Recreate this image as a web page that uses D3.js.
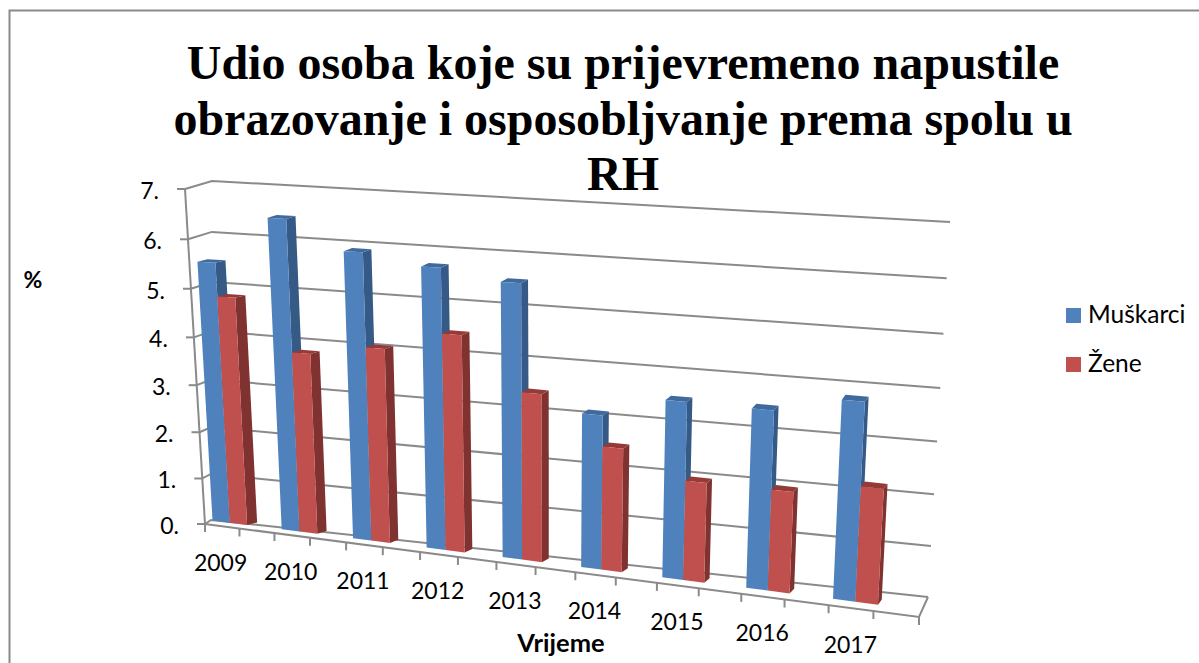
<!DOCTYPE html>
<html>
<head>
<meta charset="utf-8">
<script src="https://cdn.jsdelivr.net/npm/d3@7"></script>
<style>
	body { margin:0; background:#fff; overflow:hidden; }
	text { font-family:Lato, sans-serif; fill:#000; }
</style>
</head>
<body>
<script>
var titleLines = ['Udio osoba koje su prijevremeno napustile', 'obrazovanje i osposobljvanje prema spolu u', 'RH']
var years = ['2009','2010','2011','2012','2013','2014','2015','2016','2017']
var muskarci = [5.47, 6.42, 5.85, 5.64, 5.44, 3.04, 3.44, 3.42, 3.72]
var zene = [4.79, 3.76, 3.98, 4.37, 3.35, 2.44, 1.94, 1.94, 2.17]
var valueTicks = [0,1,2,3,4,5,6,7]
var valueLabels = ['0.','1.','2.','3.','4.','5.','6.','7.']
var seriesNames = ['Muškarci','Žene']

var w = 1199, h = 663
var svg = d3.select('body').append('svg').attr('width', w).attr('height', h)
var grey = '#8a8a8a'

// corners of the 3d box as they land on the page: [category end][top or floor][front or back]
var box = {
	left: { floor:{front:[205,524], back:[211,520]}, top:{front:[185,189], back:[212,181]} },
	right:{ floor:{front:[919,617], back:[928,597]}, top:{front:[941,225], back:[950,222]} }
}

// perspective squeeze, spacing grows towards the far end of the axis
function squeeze(k) {
	return function(t) { return t / (t + k * (1 - t)) }
}
var catSqueeze = squeeze(1.16), valSqueeze = squeeze(1.06)
var catScale = d3.scaleLinear().domain([0, years.length]).range([0,1])
var valScale = d3.scaleLinear().domain([0,7]).range([0,1])

function mix(a, b, t) { return [a[0] + (b[0]-a[0])*t, a[1] + (b[1]-a[1])*t] }

// category position, value, depth (0 front, 1 back wall) -> page point
function project(c, v, d) {
	var s = catSqueeze(catScale(c)), t = valSqueeze(valScale(v))
	var l = mix(mix(box.left.floor.front, box.left.top.front, t), mix(box.left.floor.back, box.left.top.back, t), d)
	var r = mix(mix(box.right.floor.front, box.right.top.front, t), mix(box.right.floor.back, box.right.top.back, t), d)
	return mix(l, r, s)
}

var line = d3.line()

// frame border, only top and left show in the picture
svg.append('path').attr('d', 'M9.5,' + h + 'V10.5H' + w)
	.attr('fill','none').attr('stroke',grey).attr('stroke-width',2)

// gridlines on the back wall
svg.append('g').selectAll('path').data(valueTicks).enter().append('path')
	.attr('d', function(v) { return line([project(years.length, v, 1), project(0, v, 1), project(0, v, 0)]) })
	.attr('fill','none').attr('stroke',grey).attr('stroke-width',2)

// value axis
svg.append('path').attr('d', line([project(0,0,0), project(0,7,0)]))
	.attr('stroke',grey).attr('stroke-width',2)
svg.append('g').selectAll('line').data(valueTicks).enter().append('line')
	.attr('x1', function(v) { return project(0,v,0)[0] })
	.attr('x2', function(v) { return project(0,v,0)[0] - 8 })
	.attr('y1', function(v) { return project(0,v,0)[1] })
	.attr('y2', function(v) { return project(0,v,0)[1] })
	.attr('stroke',grey).attr('stroke-width',2)
svg.append('g').selectAll('text').data(valueTicks).enter().append('text')
	.attr('x', function(v) { return project(0,v,0)[0] - 26 })
	.attr('y', function(v) { return project(0,v,0)[1] + 10 })
	.attr('text-anchor','end')
	.style('font-size','23px')
	.text(function(v,i) { return valueLabels[i] })

// floor front and right edge, category ticks every half step
svg.append('path')
	.attr('d', line([project(0,0,0), project(years.length,0,0), project(years.length,0,1)]))
	.attr('fill','none').attr('stroke',grey).attr('stroke-width',2)
svg.append('g').selectAll('line').data(d3.range(0, years.length + 0.5, 0.5)).enter().append('line')
	.attr('x1', function(c) { return project(c,0,0)[0] })
	.attr('x2', function(c) { return project(c,0,0)[0] })
	.attr('y1', function(c) { return project(c,0,0)[1] })
	.attr('y2', function(c) { return project(c,0,0)[1] + 8 })
	.attr('stroke',grey).attr('stroke-width',2)

// bars sit a bit left of the tick middle and are lifted off the front edge
var barOffset = d3.scaleLinear().domain([0,8]).range([0.36,0.30])
var barLift = d3.scaleLinear().domain([0,8]).range([-4.5,-7])
var barWidth = 0.25
var sideDx = d3.scaleLinear().domain([0,8]).range([10,3.8])
var sideDy = d3.scaleLinear().domain([0,8]).range([-2.5,-5])
var seriesColors = [
	{front:'#4f81bd', side:'#355a85', top:'#3f6a9e'},
	{front:'#c0504d', side:'#7f3230', top:'#963a37'}
]

function drawBar(g, i, s, value) {
	var c0 = i + barOffset(i) + (s - 1) * barWidth, c1 = c0 + barWidth
	var colors = seriesColors[s]
	var dx = sideDx(i), dy = sideDy(i), lift = barLift(i)
	function at(c, v) { var p = project(c, v, 0); return [p[0], p[1] + lift] }
	function back(p) { return [p[0] + dx, p[1] + dy] }
	var a = at(c0, 0), b = at(c1, 0), e = at(c1, value), f = at(c0, value)
	g.append('path').attr('d', line([b, e, back(e), back(b)]) + 'Z').attr('fill', colors.side)
	g.append('path').attr('d', line([f, e, back(e), back(f)]) + 'Z').attr('fill', colors.top)
	g.append('path').attr('d', line([a, b, e, f]) + 'Z').attr('fill', colors.front)
}

var bars = svg.append('g')
years.forEach(function(y, i) {
	drawBar(bars, i, 0, muskarci[i])
	drawBar(bars, i, 1, zene[i])
})

// category labels
svg.append('g').selectAll('text').data(years).enter().append('text')
	.attr('x', function(d,i) { return project(i + 0.3, 0, 0)[0] - 5 })
	.attr('y', function(d,i) { return project(i + 0.3, 0, 0)[1] + 44 })
	.attr('text-anchor','middle')
	.style('font-size','23px')
	.text(function(d) { return d })

// axis titles
svg.append('text').attr('x',561).attr('y',652).attr('text-anchor','middle')
	.style('font-size','25.5px').style('font-weight','700').text('Vrijeme')
svg.append('text').attr('x',33).attr('y',288).attr('text-anchor','middle')
	.style('font-size','23px').style('font-weight','700').text('%')

// legend
var legend = svg.append('g')
seriesNames.forEach(function(name, i) {
	var ly = 308 + i * 49
	legend.append('rect').attr('x',1066).attr('y',ly).attr('width',15).attr('height',15)
		.attr('fill', seriesColors[i].front)
	legend.append('text').attr('x',1088).attr('y',ly + 15).style('font-size','24.5px').text(name)
})

// title goes on top of the plot, the RH line overlaps the wall
svg.append('g').selectAll('text').data(titleLines).enter().append('text')
	.attr('x',623)
	.attr('y', function(d,i) { return 79 + i * 55.5 })
	.attr('text-anchor','middle')
	.style('font-family','"Liberation Serif", serif')
	.style('font-size','48px')
	.style('font-weight','700')
	.text(function(d) { return d })
</script>
</body>
</html>
